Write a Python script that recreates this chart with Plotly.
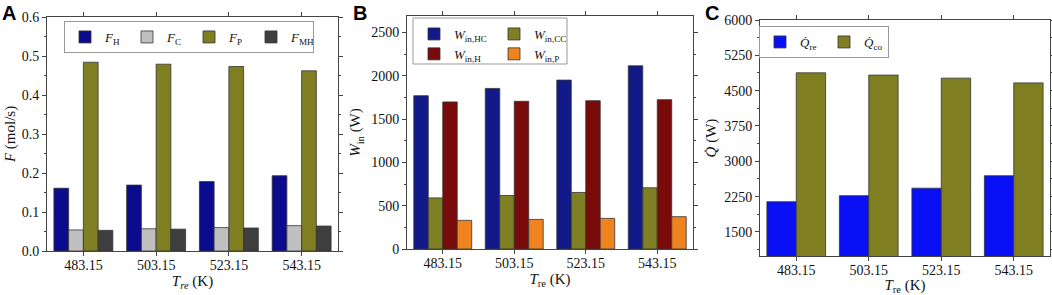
import plotly.graph_objects as go

W, H = 1052, 295
temps = ["483.15", "503.15", "523.15", "543.15"]

# Panel A (mol/s)
F_H = [0.161, 0.169, 0.178, 0.193]
F_C = [0.054, 0.057, 0.060, 0.065]
F_P = [0.484, 0.479, 0.473, 0.462]
F_MH = [0.053, 0.056, 0.059, 0.064]

# Panel B (W)
W_HC = [1770, 1854, 1950, 2115]
W_CC = [590, 618, 653, 707]
W_H = [1698, 1705, 1712, 1724]
W_P = [331, 342, 354, 373]

# Panel C (W)
Q_re = [2143, 2271, 2430, 2694]
Q_co = [4879, 4830, 4766, 4665]

FONT = "Liberation Serif"
OUT = "#333333"

def px_x(p):
    return p / W

def px_y(p):
    return 1 - p / H

fig = go.Figure()

def add_bar(x, y, name, color, xa, ya, legend):
    fig.add_trace(go.Bar(
        x=x, y=y, name=name, xaxis=xa, yaxis=ya, legend=legend,
        marker=dict(color=color, line=dict(color=OUT, width=0.8)),
    ))

# A
add_bar(temps, F_H, "<i>F</i><sub>H</sub>", "#0b0b8e", "x", "y", "legend")
add_bar(temps, F_C, "<i>F</i><sub>C</sub>", "#c0c0c0", "x", "y", "legend")
add_bar(temps, F_P, "<i>F</i><sub>P</sub>", "#7f7f21", "x", "y", "legend")
add_bar(temps, F_MH, "<i>F</i><sub>MH</sub>", "#3f3f3f", "x", "y", "legend")
# B (order in group: HC, CC, H, P)
add_bar(temps, W_HC, "<i>W</i><sub>in,HC</sub>", "#111a88", "x2", "y2", "legend2")
add_bar(temps, W_CC, "<i>W</i><sub>in,CC</sub>", "#7f7f24", "x2", "y2", "legend3")
add_bar(temps, W_H, "<i>W</i><sub>in,H</sub>", "#7a0b0b", "x2", "y2", "legend2")
add_bar(temps, W_P, "<i>W</i><sub>in,P</sub>", "#ee8320", "x2", "y2", "legend3")
# C
add_bar(temps, Q_re, "<i>Q̇</i><sub>re</sub>", "#0a10f5", "x3", "y3", "legend4")
add_bar(temps, Q_co, "<i>Q̇</i><sub>co</sub>", "#7f7f21", "x3", "y3", "legend4")

tickfont = dict(family=FONT, size=14, color="#111")
titlefont = dict(family=FONT, size=15, color="#111")

def xaxis(dom, anchor, title):
    return dict(domain=dom, anchor=anchor, type="category", range=[-0.5, 3.5],
                automargin=False, ticklabelstandoff=-3,
                showline=True, linecolor="#444", linewidth=1, mirror="ticks",
                ticks="outside", ticklen=4, tickcolor="#444", tickfont=tickfont,
                title=dict(text=title, font=titlefont, standoff=2), showgrid=False)

def yaxis(dom, anchor, rng, dtick, fmt, title, standoff):
    return dict(domain=dom, anchor=anchor, range=rng, dtick=dtick, tickformat=fmt,
                automargin=False,
                showline=True, linecolor="#444", linewidth=1, mirror="ticks",
                ticks="outside", ticklen=4, tickcolor="#444", tickfont=tickfont,
                minor=dict(ticks="outside", ticklen=2, dtick=dtick / 2, tickcolor="#444"),
                title=dict(text=title, font=titlefont, standoff=standoff),
                showgrid=False, zeroline=False)

xa = [px_x(47), px_x(338)]
xb = [px_x(407), px_x(693)]
xc = [px_x(760), px_x(1050)]
ya = [px_y(251), px_y(17)]
yb = [px_y(249), px_y(16)]
yc = [px_y(256), px_y(20)]

legend_common = dict(bgcolor="rgba(255,255,255,1)", font=dict(family=FONT, size=13, color="#111"),
                     itemwidth=30, xanchor="left", yanchor="top", tracegroupgap=0,
                     itemclick=False)

fig.update_layout(
    template="none",
    width=W, height=H,
    font=dict(family=FONT),
    margin=dict(l=0, r=0, t=0, b=0, autoexpand=False),
    paper_bgcolor="white", plot_bgcolor="white",
    barmode="group", bargap=0.19, bargroupgap=0,
    xaxis=xaxis(xa, "y", "<i>T<sub>re</sub></i> (K)"),
    yaxis=yaxis(ya, "x", [0, 0.6], 0.1, ".1f", "<i>F</i> (mol/s)", 2),
    xaxis2=xaxis(xb, "y2", "<i>T</i><sub>re</sub> (K)"),
    yaxis2=yaxis(yb, "x2", [0, 2690], 500, "d", "<i>W</i><sub>in</sub> (W)", 6),
    xaxis3=xaxis(xc, "y3", "<i>T</i><sub>re</sub> (K)"),
    yaxis3=yaxis(yc, "x3", [990, 6000], 750, "d", "<i>Q̇</i> (W)", 3),
    legend=dict(legend_common, orientation="h", x=px_x(64), y=px_y(21),
                entrywidth=17, bordercolor="#999", borderwidth=1),
    legend2=dict(legend_common, orientation="v", x=px_x(414), y=px_y(19),
                 borderwidth=0, bgcolor="rgba(0,0,0,0)"),
    legend3=dict(legend_common, orientation="v", x=px_x(494), y=px_y(19),
                 borderwidth=0, bgcolor="rgba(0,0,0,0)"),
    legend4=dict(legend_common, orientation="h", x=px_x(759), y=px_y(26),
                 entrywidth=19, bordercolor="#999", borderwidth=1),
    shapes=[dict(type="rect", xref="paper", yref="paper",
                 x0=px_x(413), x1=px_x(567), y0=px_y(64), y1=px_y(18),
                 line=dict(color="#999", width=1), layer="above")],
    annotations=[
        dict(text="<b>A</b>", x=px_x(0), y=px_y(0), xref="paper", yref="paper",
             xanchor="left", yanchor="top", showarrow=False,
             font=dict(family="Liberation Sans", size=20, color="black")),
        dict(text="<b>B</b>", x=px_x(351), y=px_y(0), xref="paper", yref="paper",
             xanchor="left", yanchor="top", showarrow=False,
             font=dict(family="Liberation Sans", size=20, color="black")),
        dict(text="<b>C</b>", x=px_x(703), y=px_y(0), xref="paper", yref="paper",
             xanchor="left", yanchor="top", showarrow=False,
             font=dict(family="Liberation Sans", size=20, color="black")),
    ],
)

fig.write_html("out.html", config={"displayModeBar": False},
               post_script="document.body.style.margin='0';")
